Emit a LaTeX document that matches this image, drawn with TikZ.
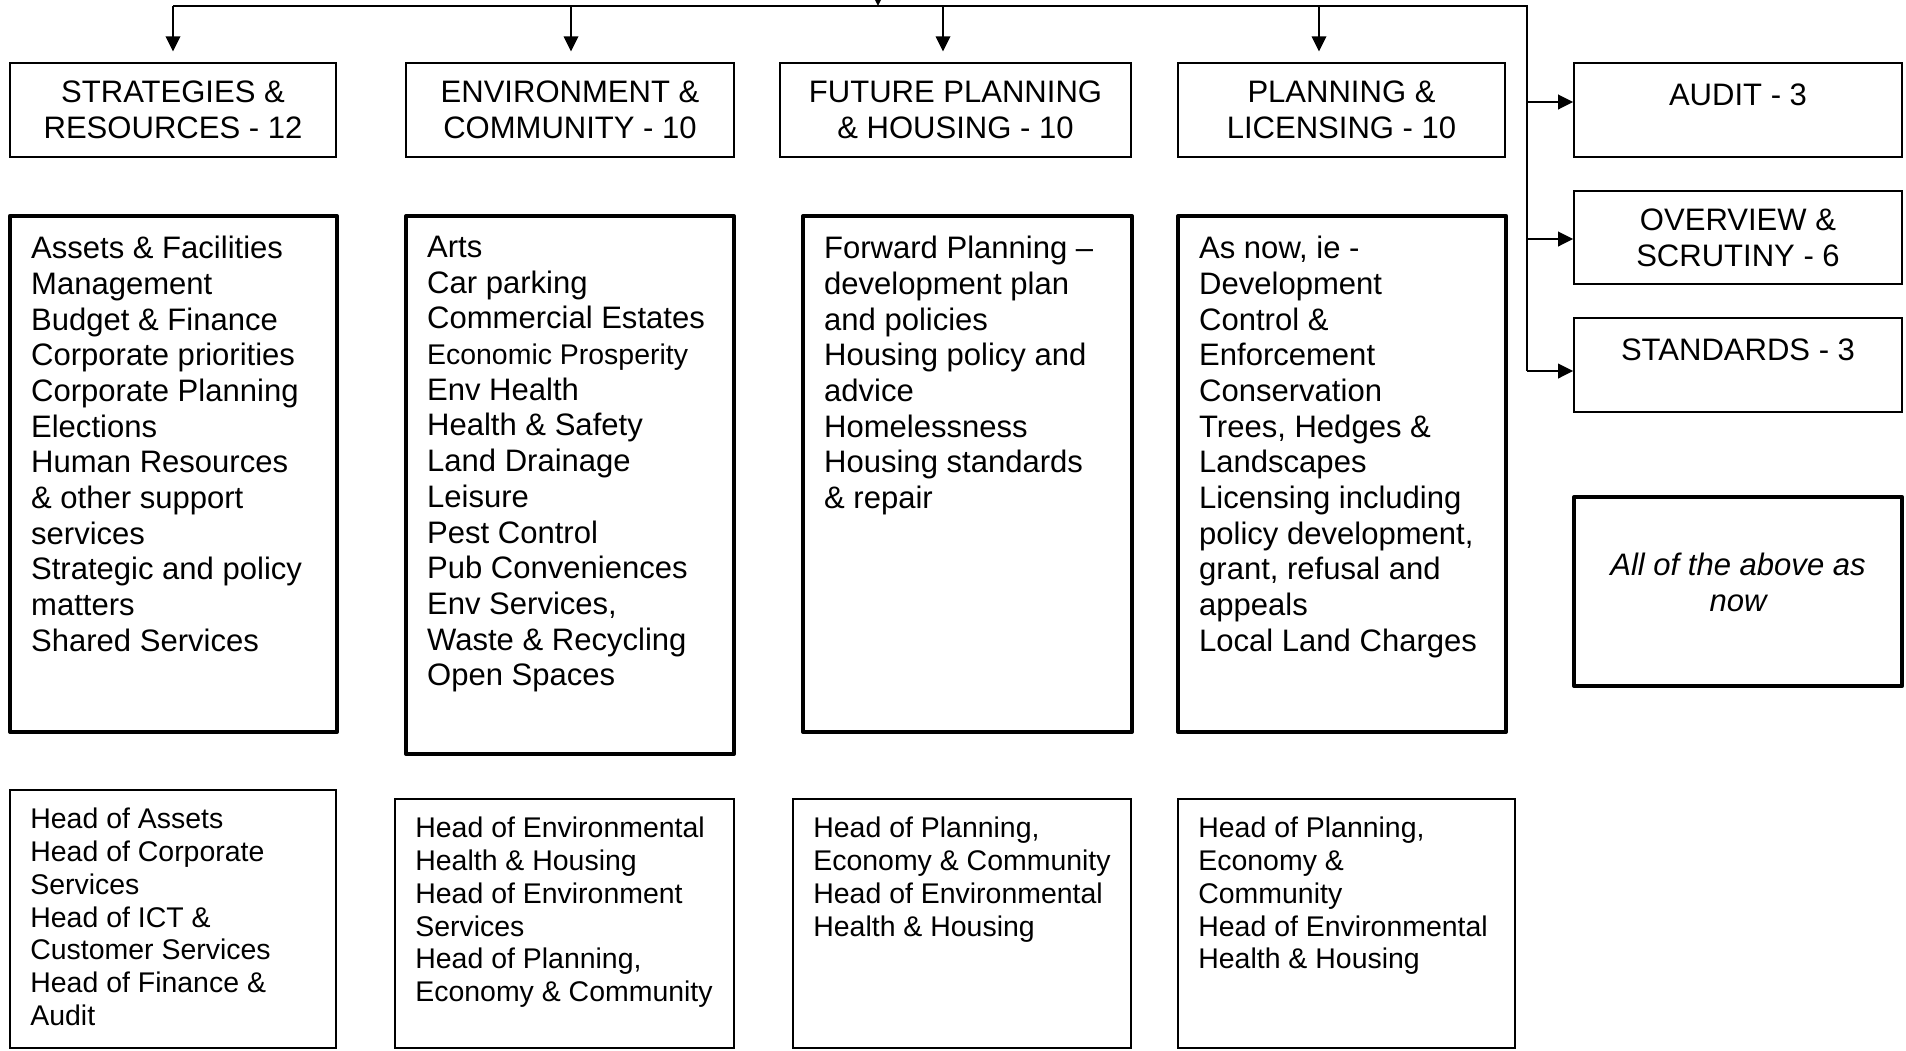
\documentclass[tikz,border=0pt]{standalone}
\usepackage{fontspec}
\setmainfont{Liberation Sans}
\usetikzlibrary{arrows.meta,fit}
\newcommand{\twelve}{\fontsize{12}{13.8}\selectfont}
\newcommand{\eleven}{\fontsize{11}{12.65}\selectfont}
\tikzset{
  thinbox/.style={draw,line width=0.6pt,inner sep=0pt},
  thickbox/.style={draw,line width=1.6pt,line join=round,inner sep=0pt},
  hdrtext/.style={anchor=north,inner sep=0pt,align=center,font=\twelve,execute at begin node=\strut},
  listtext/.style={anchor=north west,inner sep=0pt,align=left,font=\twelve,execute at begin node=\strut},
  headtext/.style={anchor=north west,inner sep=0pt,align=left,font=\eleven,execute at begin node=\strut},
}
\begin{document}
\begin{tikzpicture}[x=0.3866pt,y=-0.3866pt,line width=0.75pt,>={Triangle[length=5.8pt,width=5.6pt]}]
    \path [use as bounding box,clip] (0,0) rectangle (1906,1050);
    % committees
    \node [thinbox,fit={(10,63) (336,157)}] (sr) {};
    \node [thinbox,fit={(406,63) (734,157)}] (ec) {};
    \node [thinbox,fit={(780,63) (1131,157)}] (fph) {};
    \node [thinbox,fit={(1178,63) (1505,157)}] (pl) {};
    \node [thinbox,fit={(1574,63) (1902,157)}] (audit) {};
    \node [thinbox,fit={(1574,191) (1902,284)}] (os) {};
    \node [thinbox,fit={(1574,318) (1902,412)}] (std) {};
    \node [hdrtext] (sr-t) at ([yshift=-6.8pt]sr.north) {STRATEGIES \&\\RESOURCES - 12};
    \node [hdrtext] (ec-t) at ([yshift=-6.8pt]ec.north) {ENVIRONMENT \&\\COMMUNITY - 10};
    \node [hdrtext] (fph-t) at ([yshift=-6.8pt]fph.north) {FUTURE PLANNING\\\& HOUSING - 10};
    \node [hdrtext] (pl-t) at ([yshift=-6.8pt]pl.north) {PLANNING \&\\LICENSING - 10};
    \node [hdrtext] (audit-t) at ([yshift=-6.8pt]audit.north) {AUDIT - 3};
    \node [hdrtext] (os-t) at ([yshift=-6.8pt]os.north) {OVERVIEW \&\\SCRUTINY - 6};
    \node [hdrtext] (std-t) at ([yshift=-6.8pt]std.north) {STANDARDS - 3};
    % remits
    \node [thickbox,fit={(10,216) (337,732)}] (srl) {};
    \node [thickbox,fit={(406,216) (734,754)}] (ecl) {};
    \node [thickbox,fit={(803,216) (1132,732)}] (fphl) {};
    \node [thickbox,fit={(1178,216) (1506,732)}] (pll) {};
    \node [thickbox,fit={(1574,497) (1902,686)}] (now) {};
    \node [listtext] (srl-t) at ([xshift=8.6pt,yshift=-8.2pt]srl.north west)
      {Assets \& Facilities\\Management\\Budget \& Finance\\Corporate priorities\\Corporate Planning\\Elections\\Human Resources\\\& other support\\services\\Strategic and policy\\matters\\Shared Services};
    \node [listtext] (ecl-t) at ([xshift=8.6pt,yshift=-8.2pt]ecl.north west)
      {Arts\\Car parking\\Commercial Estates\\{\fontsize{11}{13.8}\selectfont Economic Prosperity}\\Env Health\\Health \& Safety\\Land Drainage\\Leisure\\Pest Control\\Pub Conveniences\\Env Services,\\Waste \& Recycling\\Open Spaces};
    \node [listtext] (fphl-t) at ([xshift=8.6pt,yshift=-8.2pt]fphl.north west)
      {Forward Planning --\\development plan\\and policies\\Housing policy and\\advice\\Homelessness\\Housing standards\\\& repair};
    \node [listtext] (pll-t) at ([xshift=8.6pt,yshift=-8.2pt]pll.north west)
      {As now, ie -\\Development\\Control \&\\Enforcement\\Conservation\\Trees, Hedges \&\\Landscapes\\Licensing including\\policy development,\\grant, refusal and\\appeals\\Local Land Charges};
    \node [hdrtext,font=\twelve\itshape] (now-t) at ([yshift=-22pt]now.north) {All of the above as\\now};
    % heads of service
    \node [thinbox,fit={(10,790) (336,1048)}] (srh) {};
    \node [thinbox,fit={(395,799) (734,1048)}] (ech) {};
    \node [thinbox,fit={(793,799) (1131,1048)}] (fphh) {};
    \node [thinbox,fit={(1178,799) (1515,1048)}] (plh) {};
    \node [headtext] (srh-t) at ([xshift=7.8pt,yshift=-7pt]srh.north west)
      {Head of Assets\\Head of Corporate\\Services\\Head of ICT \&\\Customer Services\\Head of Finance \&\\Audit};
    \node [headtext] (ech-t) at ([xshift=7.8pt,yshift=-7pt]ech.north west)
      {Head of Environmental\\Health \& Housing\\Head of Environment\\Services\\Head of Planning,\\Economy \& Community};
    \node [headtext] (fphh-t) at ([xshift=7.8pt,yshift=-7pt]fphh.north west)
      {Head of Planning,\\Economy \& Community\\Head of Environmental\\Health \& Housing};
    \node [headtext] (plh-t) at ([xshift=7.8pt,yshift=-7pt]plh.north west)
      {Head of Planning,\\Economy \&\\Community\\Head of Environmental\\Health \& Housing};
    % connectors
    \coordinate (feed) at (878,-40);
    \coordinate (busL) at (173,6);
    \coordinate (busR) at (1527,6);
    \coordinate (busD) at (1527,371);
    \coordinate (d2) at (571,6);
    \coordinate (d3) at (943,6);
    \coordinate (d4) at (1319,6);
    \coordinate (r1) at (1527,102);
    \coordinate (r2) at (1527,239);
    \draw [->] (feed) -- (feed |- busL);
    \draw (busL) -- (busR) -- (busD);
    \draw [->] (busL) -- ([yshift=4.2pt]sr.north);
    \draw [->] (d2) -- ([yshift=4.2pt]d2 |- ec.north);
    \draw [->] (d3) -- ([yshift=4.2pt]d3 |- fph.north);
    \draw [->] (d4) -- ([yshift=4.2pt]d4 |- pl.north);
    \draw [->] (r1) -- (r1 -| audit.west);
    \draw [->] (r2) -- (r2 -| os.west);
    \draw [->] (busD) -- (busD -| std.west);
\end{tikzpicture}
\end{document}
